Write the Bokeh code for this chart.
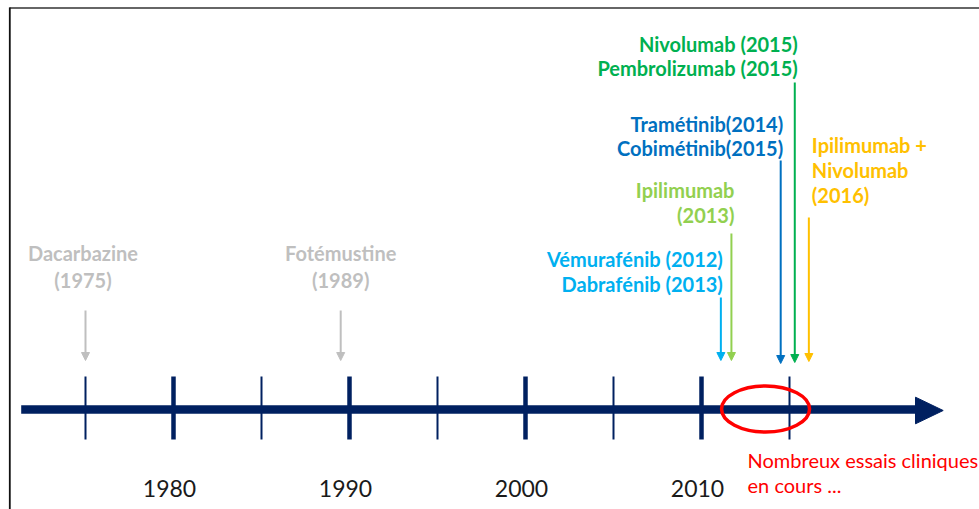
from bokeh.plotting import figure
from bokeh.models import Range1d, Arrow, NormalHead
from bokeh.embed import file_html
from bokeh.resources import INLINE
from bokeh.core.properties import value

# ---------------- data ----------------
tick_years = [1975, 1980, 1985, 1990, 1995, 2000, 2005, 2010, 2015]
decade_years = [1980, 1990, 2000, 2010]
decade_labels = ["1980", "1990", "2000", "2010"]

label_lines = [
    ["Dacarbazine", "(1975)"],
    ["Fotémustine", "(1989)"],
    ["Vémurafénib (2012)", "Dabrafénib (2013)"],
    ["Ipilimumab", "(2013)"],
    ["Tramétinib(2014)", "Cobimétinib(2015)"],
    ["Nivolumab (2015)", "Pembrolizumab (2015)"],
    ["Ipilimumab +", "Nivolumab", "(2016)"],
]
arrow_years = [1975.0, 1989.5, 2011.1, 2011.7, 2014.5, 2015.3, 2016.1]
group_colors = ["#bfbfbf", "#bfbfbf", "#00b0f0", "#92d050", "#0070c0", "#00b050", "#ffc000"]

note_lines = ["Nombreux essais cliniques", "en cours ..."]
note_center_year = 2013.64

# ---------------- layout ----------------
W, H = 979, 509
PX_PER_YEAR = 17.6
ORIGIN_YEAR, ORIGIN_PX = 1975, 85.0
TEXT_SHIFT = -8  # renderer places text slightly lower than its anchor


def year_at(px):
    return ORIGIN_YEAR + (px - ORIGIN_PX) / PX_PER_YEAR


def dyears(px):
    return px / PX_PER_YEAR


NAVY = "#002060"
FONT = value("Lato")

label_align = ["center", "center", "right", "right", "right", "right", "left"]
label_dx = [-2.5, 0.0, 2.0, 3.0, 2.5, 3.0, 3.0]
label_y0 = [260, 260, 266, 197, 131, 51, 152]
label_dy = [27, 27, 25, 25, 24.5, 24.5, 25]
arrow_top = [310, 310, 297, 233, 160, 82, 217]
arrow_tip = [360, 360, 360, 360, 363, 362, 361]

AXIS_Y = 409
AXIS_X0, AXIS_X1, AXIS_TIP = 20.7, 915, 942.7
HEAD_HALF = 13.3
TICK_TOP, TICK_BOT = 376, 439

p = figure(width=W, height=H, x_range=Range1d(year_at(0), year_at(W)),
           y_range=Range1d(H, 0), x_axis_type=None, y_axis_type=None,
           toolbar_location=None, output_backend="svg", min_border=0,
           outline_line_color=None, background_fill_color="white")
p.grid.visible = False

# frame lines (top and left)
p.segment(x0=[year_at(9)], y0=[7.5], x1=[year_at(W)], y1=[7.5],
          line_color="#333333", line_width=1.6)
p.segment(x0=[year_at(9.3)], y0=[7], x1=[year_at(9.3)], y1=[H],
          line_color="#111111", line_width=1.8)

# main timeline arrow
p.segment(x0=[year_at(AXIS_X0)], y0=[AXIS_Y], x1=[year_at(AXIS_X1)], y1=[AXIS_Y],
          line_color=NAVY, line_width=8.5)
p.patch(x=[year_at(AXIS_X1), year_at(AXIS_TIP), year_at(AXIS_X1)],
        y=[AXIS_Y + 1 - HEAD_HALF, AXIS_Y + 1, AXIS_Y + 1 + HEAD_HALF],
        fill_color=NAVY, line_color=NAVY)

# ticks
major = [t for t in tick_years if t % 10 == 0]
minor = [t for t in tick_years if t % 10 != 0]
p.segment(x0=major, y0=[TICK_TOP] * len(major), x1=major, y1=[TICK_BOT] * len(major),
          line_color=NAVY, line_width=4.5)
p.segment(x0=minor, y0=[TICK_TOP] * len(minor), x1=minor, y1=[TICK_BOT] * len(minor),
          line_color=NAVY, line_width=2)

# decade labels
p.text(x=[y - dyears(4) for y in decade_years], y=[496 + TEXT_SHIFT] * len(decade_years),
       text=decade_labels, text_align="center", text_baseline="alphabetic",
       text_font=FONT, text_font_size="23px", text_color="#1a1a1a")

# drug labels and arrows
for lines, ax, col, al, dx, y0, dy, top, tip in zip(
        label_lines, arrow_years, group_colors, label_align, label_dx,
        label_y0, label_dy, arrow_top, arrow_tip):
    xs = [ax + dyears(dx)] * len(lines)
    ys = [y0 + TEXT_SHIFT + i * dy for i in range(len(lines))]
    p.text(x=xs, y=ys, text=lines, text_align=al, text_baseline="alphabetic",
           text_font=FONT, text_font_style="bold", text_font_size="20px",
           text_color=col)
    p.add_layout(Arrow(end=NormalHead(size=8, fill_color=col, line_color=col, line_width=1),
                       x_start=ax, y_start=top, x_end=ax, y_end=tip,
                       line_color=col, line_width=2))

# red ellipse and note
p.ellipse(x=[note_center_year], y=[AXIS_Y - 0.5], width=[88], height=[46],
          width_units="screen", height_units="screen",
          fill_color=None, line_color="#ff0000", line_width=3.5)
p.text(x=[note_center_year - dyears(18)] * 2, y=[467 + TEXT_SHIFT, 492 + TEXT_SHIFT],
       text=note_lines, text_align="left", text_baseline="alphabetic", text_font=FONT,
       text_font_size="20px", text_color="#ff0000")

open("out.html", "w").write(file_html(p, INLINE))
